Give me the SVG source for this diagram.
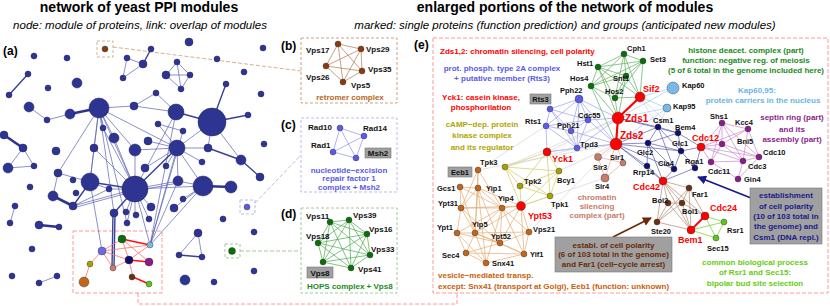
<svg xmlns="http://www.w3.org/2000/svg" width="830" height="306" viewBox="0 0 830 306">
<defs>
<style>
text{font-family:"Liberation Sans",Arial,Helvetica,sans-serif}
.title{font-size:14px;font-weight:bold;text-anchor:middle;fill:#000}
.sub{font-size:11.5px;font-style:italic;text-anchor:middle;fill:#000}
.pl{font-size:12px;font-weight:bold;fill:#000}
.lb{font-size:8px;font-weight:bold;fill:#111}
.le{font-size:7.5px;font-weight:bold;fill:#111}
.lr{font-size:9px;font-weight:bold;fill:#ff0000}
.lz{font-size:10px;font-weight:bold;fill:#ff0000}
.d{font-size:8px;font-weight:bold}
.c{text-anchor:middle}
.na{fill:#2e3590;stroke:#1c2068;stroke-width:.5}
.ea{stroke:#5a60b4;stroke-width:.7;fill:none}
.em{stroke:#3a4099;stroke-width:1.4;fill:none}
.et{stroke:#2e3590;stroke-width:2.6;fill:none}
.gbox{fill:#a0a0a0;stroke:#777;stroke-width:.6}
.n{stroke:#333;stroke-width:.4}
</style>
<marker id="arN" viewBox="0 0 10 10" refX="9" refY="5" markerWidth="5" markerHeight="5" orient="auto"><path d="M0,0L10,5L0,10z" fill="#1a1a8c"/></marker>
<marker id="arB" viewBox="0 0 10 10" refX="9" refY="5" markerWidth="5" markerHeight="5" orient="auto"><path d="M0,0L10,5L0,10z" fill="#6b2a0a"/></marker>
</defs>
<rect width="830" height="306" fill="#fff"/>

<text class="title" x="139" y="12">network of yeast PPI modules</text>
<text class="sub" x="140" y="29">node: module of proteins, link: overlap of modules</text>
<text class="title" x="565" y="12">enlarged portions of the network of modules</text>
<text class="sub" x="565" y="29">marked: single proteins (function prediction) and groups (anticipated new modules)</text>

<!-- connectors -->
<g id="connectors" fill="none" stroke-dasharray="4,2">
<path d="M113,47L301,71" stroke="#d09a70" stroke-width=".8"/>
<path d="M255,203L301,155" stroke="#aaaaee" stroke-width=".8"/>
<path d="M240,251L301,251" stroke="#88bb88" stroke-width=".8"/>
<path d="M138,293L138,304L457,304L457,293" stroke="#ff8080" stroke-width=".8"/>
</g>

<!-- panel a -->
<g id="panel-a">
<text class="pl" x="3" y="55">(a)</text>
<rect x="97" y="41" width="16" height="16" fill="none" stroke="#d09a70" stroke-width=".8" stroke-dasharray="3,2"/>
<rect x="240" y="200" width="15" height="14" fill="none" stroke="#aaaaee" stroke-width=".8" stroke-dasharray="3,2"/>
<rect x="225" y="244" width="15" height="14" fill="none" stroke="#88bb88" stroke-width=".8" stroke-dasharray="3,2"/>
<rect x="73" y="231" width="89" height="62" fill="none" stroke="#ff8080" stroke-width=".8" stroke-dasharray="4,2"/>
<path class="ea" d="M29,107L47,120L70,114M99,108L134,106M99,108L103,128M99,108L114,138M99,108L135,150M99,108L94,148M99,108L90,182M99,108L135,189M99,108L177,148M99,108L58,173M99,108L114,213M99,108L127,223M23,148L8,168M23,148L34,166M8,168L34,166M127,58L143,64M123,78L143,64M127,58L123,78M177,62L166,75M177,62L190,75M166,75L190,75M166,75L181,89M190,75L181,89M177,62L181,89M134,106L156,93M156,93L176,112M134,106L176,112M212,122L208,148M212,122L241,160M158,124L183,131M158,124L177,148M148,141L177,148M135,150L177,148M177,148L208,148M177,148L202,162M177,148L145,168M177,148L166,166M177,148L178,181M177,148L203,186M177,148L150,245M176,112L150,245M183,131L150,245M58,173L90,182M58,173L53,196M73,206L109,189M73,206L135,189M73,208L135,191M90,182L109,189M109,189L135,189M102,251L90,182M135,189L126,212M135,189L135,215M135,189L127,223M135,189L178,181M135,191L178,183M135,189L203,186M178,181L203,186M203,186L183,199M203,186L174,208M135,189L151,207M135,189L149,219M203,186L150,245M135,189L150,245M178,181L150,245M15,206L10,223M39,283L57,276M198,233L179,255M198,233L202,257M114,138L135,189M94,148L90,182M103,128L135,189M176,112L135,189M212,122L177,148M135,150L135,189M94,148L135,189"/>
<path class="em" d="M28,74L9,95M151,49L143,64M212,122L226,84M212,122L248,115M208,148L241,160M241,160L260,177M135,189L177,148M73,206L90,182M90,182L135,189M135,189L114,213M113,213L112,268M115,213L114,268M179,255L202,257M176,112L212,122"/>
<path class="et" d="M70,114L99,108M4,135L23,148M53,196L73,206M39,225L59,227M203,186L231,187"/>
<g class="na">
<circle cx="34" cy="56" r="3"/><circle cx="67" cy="58" r="3"/><circle cx="28" cy="74" r="3"/><circle cx="9" cy="95" r="3"/>
<circle cx="48" cy="88" r="3"/><circle cx="77" cy="83" r="5"/><circle cx="29" cy="107" r="5"/><circle cx="47" cy="120" r="3"/>
<circle cx="70" cy="114" r="5"/><circle cx="99" cy="108" r="10"/><circle cx="134" cy="106" r="4"/><circle cx="103" cy="128" r="3"/>
<circle cx="114" cy="138" r="5"/><circle cx="135" cy="150" r="6"/><circle cx="94" cy="148" r="4"/><circle cx="56" cy="151" r="4"/>
<circle cx="4" cy="135" r="4"/><circle cx="23" cy="148" r="4"/><circle cx="8" cy="168" r="5"/><circle cx="34" cy="166" r="3"/>
<circle cx="127" cy="58" r="3"/><circle cx="123" cy="78" r="3"/><circle cx="151" cy="49" r="3"/><circle cx="143" cy="64" r="4"/>
<circle cx="189" cy="42" r="4"/><circle cx="263" cy="48" r="3"/><circle cx="217" cy="59" r="3"/>
<circle cx="177" cy="62" r="3"/><circle cx="166" cy="75" r="4"/><circle cx="190" cy="75" r="3"/><circle cx="181" cy="89" r="3"/>
<circle cx="244" cy="72" r="3"/><circle cx="261" cy="94" r="3"/><circle cx="226" cy="84" r="3"/><circle cx="156" cy="93" r="3"/>
<circle cx="176" cy="112" r="8"/><circle cx="212" cy="122" r="14"/><circle cx="248" cy="115" r="3"/><circle cx="158" cy="124" r="3"/>
<circle cx="183" cy="131" r="3"/><circle cx="264" cy="144" r="3"/><circle cx="148" cy="141" r="4"/><circle cx="177" cy="148" r="8"/>
<circle cx="208" cy="148" r="4"/><circle cx="241" cy="160" r="5"/><circle cx="202" cy="162" r="3"/><circle cx="145" cy="168" r="4"/>
<circle cx="166" cy="166" r="3"/><circle cx="58" cy="173" r="4"/><circle cx="90" cy="182" r="9"/><circle cx="73" cy="180" r="3"/>
<circle cx="30" cy="187" r="3"/><circle cx="53" cy="196" r="5"/><circle cx="76" cy="193" r="3"/><circle cx="73" cy="206" r="4"/>
<circle cx="109" cy="189" r="3"/><circle cx="135" cy="189" r="13"/><circle cx="114" cy="213" r="4"/><circle cx="15" cy="206" r="3"/>
<circle cx="10" cy="223" r="3"/><circle cx="39" cy="225" r="4"/><circle cx="59" cy="227" r="3"/><circle cx="126" cy="212" r="3"/>
<circle cx="136" cy="215" r="3"/><circle cx="127" cy="223" r="3"/><circle cx="32" cy="249" r="3"/><circle cx="12" cy="276" r="3"/>
<circle cx="39" cy="283" r="3"/><circle cx="57" cy="276" r="3"/><circle cx="178" cy="181" r="5"/><circle cx="203" cy="186" r="10"/>
<circle cx="231" cy="187" r="6"/><circle cx="260" cy="177" r="4"/><circle cx="183" cy="199" r="3"/><circle cx="174" cy="208" r="4"/>
<circle cx="151" cy="207" r="4"/><circle cx="149" cy="219" r="3"/><circle cx="223" cy="219" r="3"/><circle cx="254" cy="232" r="3"/>
<circle cx="198" cy="233" r="4"/><circle cx="179" cy="255" r="3"/><circle cx="202" cy="257" r="3"/><circle cx="254" cy="271" r="3"/>
<circle cx="185" cy="280" r="5"/><circle cx="214" cy="282" r="3"/>
</g>
<path d="M102,251L122,239M102,251L129,260M102,251L113,268M102,251L90,264M90,264L84,282M122,239L129,260M129,260L113,268M129,260L150,245M129,260L133,277M122,239L149,262M102,251L150,245" stroke="#ff7070" stroke-width=".8" fill="none"/>
<path d="M122,239L150,245M129,260L149,262M133,277L149,284" stroke="#ff1010" stroke-width="1.6" fill="none"/>
<g class="n">
<circle cx="105" cy="49" r="3" fill="#8b3a0f"/>
<circle cx="247" cy="207" r="3" fill="#5a5ae6"/>
<circle cx="232" cy="251" r="3.5" fill="#0a6e0a"/>
<circle cx="102" cy="251" r="4" fill="#6a6ae6"/>
<circle cx="122" cy="239" r="4" fill="#0a6e0a"/>
<circle cx="90" cy="264" r="3" fill="#a8a000"/>
<circle cx="84" cy="282" r="5" fill="#c0651a"/>
<circle cx="113" cy="268" r="3" fill="#c87b6b"/>
<circle cx="129" cy="260" r="4" fill="#101070"/>
<circle cx="132" cy="277" r="3" fill="#6b2e10"/>
<circle cx="150" cy="245" r="3" fill="#7ab8e8"/>
<circle cx="149" cy="262" r="4" fill="#8b1a8b"/>
<circle cx="149" cy="284" r="3" fill="#5ec41a"/>
</g>
</g>

<!-- panel b -->
<g id="panel-b">
<text class="pl" x="281" y="50">(b)</text>
<rect x="301" y="38" width="96" height="65" fill="none" stroke="#c08a60" stroke-width=".8" stroke-dasharray="3,2"/>
<path d="M338,44L361,49M338,44L326,66M338,44L362,71M338,44L343,82M361,49L326,66M361,49L362,71M361,49L343,82M326,66L362,71M326,66L343,82M362,71L343,82" stroke="#b07850" stroke-width=".7" fill="none"/>
<g id="b-Vps17"><circle class="n" cx="338" cy="44" r="3" fill="#8b3a0f"/><text class="lb" x="306" y="53">Vps17</text></g>
<g id="b-Vps29"><circle class="n" cx="361" cy="49" r="3" fill="#8b3a0f"/><text class="lb" x="366" y="52">Vps29</text></g>
<g id="b-Vps26"><circle class="n" cx="326" cy="66" r="3" fill="#8b3a0f"/><text class="lb" x="306" y="80">Vps26</text></g>
<g id="b-Vps35"><circle class="n" cx="362" cy="71" r="3" fill="#8b3a0f"/><text class="lb" x="368" y="72">Vps35</text></g>
<g id="b-Vps5"><circle class="n" cx="343" cy="82" r="3" fill="#8b3a0f"/><text class="lb" x="351" y="88">Vps5</text></g>
<text class="d c" x="350" y="100" fill="#b5651d">retromer complex</text>
</g>

<!-- panel c -->
<g id="panel-c">
<text class="pl" x="281" y="129">(c)</text>
<rect x="301" y="118" width="96" height="74" fill="none" stroke="#aaaaee" stroke-width=".8" stroke-dasharray="3,2"/>
<path d="M340,128L364,136M340,128L333,152M340,128L356,158M364,136L333,152M364,136L356,158M333,152L356,158" stroke="#8f8fee" stroke-width=".7" fill="none"/>
<g id="c-Rad10"><circle class="n" cx="340" cy="128" r="3" fill="#5a5ae6"/><text class="lb" x="308" y="130">Rad10</text></g>
<g id="c-Rad14"><circle class="n" cx="364" cy="136" r="3" fill="#5a5ae6"/><text class="lb" x="363" y="131">Rad14</text></g>
<g id="c-Rad1"><circle class="n" cx="333" cy="152" r="3" fill="#5a5ae6"/><text class="lb" x="311" y="148">Rad1</text></g>
<g id="c-Msh2"><circle class="n" cx="356" cy="158" r="3" fill="#5a5ae6"/><rect class="gbox" x="365" y="148" width="26" height="10"/><text class="lb c" x="378" y="156">Msh2</text></g>
<text class="d c" x="349" y="173" fill="#5a5ae6">nucleotide−excision</text>
<text class="d c" x="349" y="181" fill="#5a5ae6">repair factor 1</text>
<text class="d c" x="349" y="190" fill="#5a5ae6">complex + Msh2</text>
</g>

<!-- panel d -->
<g id="panel-d">
<text class="pl" x="281" y="218">(d)</text>
<rect x="301" y="208" width="96" height="85" fill="none" stroke="#88bb88" stroke-width=".8" stroke-dasharray="3,2"/>
<path d="M330,222L349,220M330,222L367,234M330,222L318,243M330,222L370,255M330,222L323,262M330,222L351,268M349,220L367,234M349,220L318,243M349,220L370,255M349,220L323,262M349,220L351,268M367,234L318,243M367,234L370,255M367,234L323,262M367,234L351,268M318,243L370,255M318,243L323,262M318,243L351,268M370,255L323,262M370,255L351,268M323,262L351,268" stroke="#4caa4c" stroke-width=".7" fill="none"/>
<g id="d-Vps11"><circle class="n" cx="330" cy="222" r="3" fill="#0a6e0a"/><text class="lb" x="306" y="219">Vps11</text></g>
<g id="d-Vps39"><circle class="n" cx="349" cy="220" r="3" fill="#0a6e0a"/><text class="lb" x="353" y="218">Vps39</text></g>
<g id="d-Vps16"><circle class="n" cx="367" cy="234" r="3" fill="#0a6e0a"/><text class="lb" x="369" y="232">Vps16</text></g>
<g id="d-Vps18"><circle class="n" cx="318" cy="243" r="3" fill="#0a6e0a"/><text class="lb" x="306" y="239">Vps18</text></g>
<g id="d-Vps33"><circle class="n" cx="370" cy="255" r="3" fill="#0a6e0a"/><text class="lb" x="371" y="252">Vps33</text></g>
<g id="d-Vps8"><circle class="n" cx="323" cy="262" r="3" fill="#0a6e0a"/><rect class="gbox" x="307" y="267" width="26" height="11"/><text class="lb c" x="320" y="276">Vps8</text></g>
<g id="d-Vps41"><circle class="n" cx="351" cy="268" r="3" fill="#0a6e0a"/><text class="lb" x="358" y="272">Vps41</text></g>
<text class="d" x="307" y="289" fill="#1a8a1a">HOPS complex + Vps8</text>
</g>

<!-- panel e -->
<g id="panel-e">
<text class="pl" x="414" y="49">(e)</text>
<rect x="433" y="38" width="395" height="255" fill="none" stroke="#ff8080" stroke-width=".8" stroke-dasharray="4,2"/>

<g id="e-edges" fill="none">
<path stroke="#cfcfcf" stroke-width=".6" d="M547,152L618,118M547,152L616,144M529,232L616,144M478,170L616,144M505,167L618,118M640,97L658,127M667,108L658,127M640,97L678,133M559,171L616,144M521,206L605,178M546,126L478,170M577,148L505,167"/>
<path stroke="#9d9df2" stroke-width=".7" d="M579,99L550,109M579,99L546,126M579,99L571,131M579,99L588,120M579,99L577,148M550,109L546,126M550,109L571,131M550,109L588,120M550,109L577,148M546,126L571,131M546,126L588,120M546,126L577,148M571,131L588,120M571,131L577,148M588,120L577,148M579,99L618,118M588,120L618,118M588,120L616,144M577,148L616,144M571,131L616,144M577,148L618,118M579,99L616,144M546,126L547,152M577,148L547,152"/>
<path stroke="#5fae5f" stroke-width=".7" d="M598,67L591,86M598,67L626,76M598,67L615,98M598,67L624,54M598,67L643,61M591,86L626,76M591,86L615,98M591,86L624,54M591,86L643,61M626,76L615,98M626,76L624,54M626,76L643,61M615,98L624,54M615,98L643,61M624,54L643,61M598,67L618,118M591,86L618,118M626,76L618,118M615,98L618,118M643,61L640,97M626,76L640,97M615,98L640,97M598,67L640,97M624,54L640,97M591,86L616,144"/>
<path stroke="#a8d4f0" stroke-width=".8" d="M673,88L640,97M667,108L640,97M673,88L618,118M667,108L618,118M667,108L616,144"/>
<path stroke="#ff0000" stroke-width="2.2" d="M618,118L640,97M618,118L616,144"/>
<path stroke="#5a5ab0" stroke-width=".7" d="M658,127L678,133M658,127L648,143M658,127L681,151M678,133L681,151M678,133L648,143M681,151L648,143M648,143L647,166M648,143L674,169M681,151L674,169M681,151L695,168M678,133L701,147M681,151L701,147M674,169L663,181M647,166L663,181M695,168L663,181M616,144L648,143M616,144L658,127M618,118L658,127M616,144L647,166M616,144L674,169M618,118L678,133M616,144L681,151M695,168L701,147M658,127L674,169M616,144L663,181M648,143L663,181"/>
<path stroke="#c888c8" stroke-width=".7" d="M701,147L722,123M701,147L722,144M701,147L748,129M701,147L711,162M701,147L743,161M701,147L759,157M722,123L748,129M722,123L722,144M722,123L759,157M722,123L743,161M748,129L759,157M748,129L722,144M748,129L743,161M722,144L743,161M722,144L759,157M722,144L711,162M743,161L759,157M743,161L738,179M711,162L738,179M711,162L743,161M759,157L738,179M722,123L711,162"/>
<path stroke="#e8a898" stroke-width=".7" d="M598,157L623,163M598,157L605,178M623,163L605,178M616,144L598,157M616,144L623,163M616,144L605,178"/>
<path stroke="#d8d070" stroke-width=".8" d="M505,167L520,186M505,167L559,171M505,167L550,196M505,167L521,206M520,186L559,171M520,186L550,196M520,186L521,206M559,171L550,196M559,171L521,206M550,196L521,206M547,152L505,167M547,152L520,186M547,152L559,171M547,152L550,196"/>
<path stroke="#e4aa70" stroke-width=".7" d="M460,187L478,188M460,187L461,208M460,187L502,208M460,187L475,233M478,188L461,208M478,188L502,208M478,188L475,233M478,188L500,243M478,188L486,263M478,170L478,188M478,170L461,208M478,170L475,233M478,170L502,208M461,208L502,208M461,208L457,233M461,208L475,233M461,208L500,243M502,208L521,206M502,208L475,233M502,208L500,243M502,208L486,263M502,208L524,254M502,208L457,233M502,208L529,232M457,233L475,233M457,233L466,253M457,233L486,263M457,233L500,243M475,233L500,243M475,233L466,253M475,233L486,263M475,233L524,254M475,233L529,232M500,243L524,254M500,243L529,232M500,243L466,253M500,243L521,206M466,253L524,254M466,253L486,263M486,263L524,254M524,254L529,232M521,206L529,232M521,206L524,254M521,206L475,233M521,206L461,208M521,206L478,188"/>
<path stroke="#b08870" stroke-width=".7" d="M663,181L689,188M663,181L668,203M663,181L682,203M663,181L657,222M663,181L691,230M663,181L705,216M689,188L682,203M689,188L705,216M689,188L691,230M668,203L682,203M668,203L657,222M668,203L691,230M682,203L691,230M682,203L657,222M682,203L705,216M657,222L691,230M689,188L657,222"/>
<path stroke="#80d040" stroke-width=".8" d="M705,216L724,222M705,216L716,238M691,230L724,222M691,230L716,238M724,222L716,238"/>
<path stroke="#ff0000" stroke-width="1.8" d="M705,216L691,230"/>
</g>
<path d="M751,198L698,177" stroke="#1a1a8c" stroke-width="1.8" fill="none" marker-end="url(#arN)"/>
<path d="M613,237L651,218" stroke="#6b2a0a" stroke-width="1.8" fill="none" marker-end="url(#arB)"/>

<g id="e-nodes">
<g id="e-Pph22"><circle class="n" cx="579" cy="99" r="4" fill="#5a5ae6"/><text class="le" x="560" y="93">Pph22</text></g>
<g id="e-Rts3"><circle class="n" cx="550" cy="109" r="3" fill="#5a5ae6"/><rect class="gbox" x="530" y="94" width="21" height="10"/><text class="le c" x="540.5" y="102">Rts3</text></g>
<g id="e-Rts1"><circle class="n" cx="546" cy="126" r="3" fill="#5a5ae6"/><text class="le" x="525" y="124">Rts1</text></g>
<g id="e-Pph21"><circle class="n" cx="571" cy="131" r="3" fill="#5a5ae6"/><text class="le" x="557" y="128">Pph21</text></g>
<g id="e-Cdc55"><circle class="n" cx="588" cy="120" r="3" fill="#5a5ae6"/><text class="le" x="578" y="118">Cdc55</text></g>
<g id="e-Tpd3"><circle class="n" cx="577" cy="148" r="3" fill="#5a5ae6"/><text class="le" x="580" y="147">Tpd3</text></g>
<g id="e-Hst1"><circle class="n" cx="598" cy="67" r="3" fill="#0a6e0a"/><text class="le" x="577" y="66">Hst1</text></g>
<g id="e-Hos4"><circle class="n" cx="591" cy="86" r="3" fill="#0a6e0a"/><text class="le" x="570" y="81">Hos4</text></g>
<g id="e-Snt1"><circle class="n" cx="626" cy="76" r="3" fill="#0a6e0a"/><text class="le" x="613" y="81">Snt1</text></g>
<g id="e-Hos2"><circle class="n" cx="615" cy="98" r="3" fill="#0a6e0a"/><text class="le" x="605" y="94">Hos2</text></g>
<g id="e-Cph1"><circle class="n" cx="624" cy="54" r="3" fill="#0a6e0a"/><text class="le" x="627" y="51">Cph1</text></g>
<g id="e-Set3"><circle class="n" cx="643" cy="61" r="3" fill="#0a6e0a"/><text class="le" x="650" y="62">Set3</text></g>
<g id="e-Kap60"><circle class="n" cx="673" cy="88" r="6" fill="#7ab8e8"/><text class="le" x="682" y="88">Kap60</text></g>
<g id="e-Kap95"><circle class="n" cx="667" cy="108" r="4" fill="#7ab8e8"/><text class="le" x="673" y="109">Kap95</text></g>
<g id="e-Sif2"><circle class="n" cx="640" cy="97" r="5" fill="#ff0000"/><text class="lr" x="643" y="92">Sif2</text></g>
<g id="e-Zds1"><circle class="n" cx="618" cy="118" r="6" fill="#ff0000"/><text class="lz" x="625" y="122">Zds1</text></g>
<g id="e-Zds2"><circle class="n" cx="616" cy="144" r="6" fill="#ff0000"/><text class="lz" x="620" y="139">Zds2</text></g>
<g id="e-Yck1"><circle class="n" cx="547" cy="152" r="4" fill="#ff0000"/><text class="lr" x="552" y="162">Yck1</text></g>
<g id="e-Csm1"><circle class="n" cx="658" cy="127" r="3" fill="#101070"/><text class="le" x="653" y="123">Csm1</text></g>
<g id="e-Bem4"><circle class="n" cx="678" cy="133" r="3" fill="#101070"/><text class="le" x="675" y="130">Bem4</text></g>
<g id="e-Glc1"><circle class="n" cx="681" cy="151" r="3" fill="#101070"/><text class="le" x="672" y="146">Glc1</text></g>
<g id="e-Glc2"><circle class="n" cx="648" cy="143" r="3" fill="#101070"/><text class="le" x="637" y="155">Glc2</text></g>
<g id="e-Rrp14"><circle class="n" cx="647" cy="166" r="3" fill="#101070"/><text class="le" x="633" y="175">Rrp14</text></g>
<g id="e-Cla4"><circle class="n" cx="674" cy="169" r="3" fill="#101070"/><text class="le" x="658" y="166">Cla4</text></g>
<g id="e-Rga1"><text class="le" x="685" y="164">Rga1</text></g>
<g id="e-Cdc11"><circle class="n" cx="695" cy="168" r="3" fill="#101070"/><text class="le" x="708" y="174">Cdc11</text></g>
<g id="e-Cdc12"><circle class="n" cx="701" cy="147" r="4" fill="#ff0000"/><text class="lr" x="692" y="141">Cdc12</text></g>
<g id="e-Shs1"><circle class="n" cx="722" cy="123" r="3" fill="#8b1a8b"/><text class="le" x="710" y="119">Shs1</text></g>
<g id="e-Kcc4"><circle class="n" cx="748" cy="129" r="3" fill="#8b1a8b"/><text class="le" x="735" y="125">Kcc4</text></g>
<g id="e-Bni5"><circle class="n" cx="722" cy="144" r="3" fill="#8b1a8b"/><text class="le" x="737" y="144">Bni5</text></g>
<g id="e-Cdc10"><circle class="n" cx="759" cy="157" r="3" fill="#8b1a8b"/><text class="le" x="763" y="155">Cdc10</text></g>
<g id="e-Cdc3"><circle class="n" cx="743" cy="161" r="3" fill="#8b1a8b"/><text class="le" x="748" y="169">Cdc3</text></g>
<g id="e-sept"><circle class="n" cx="711" cy="162" r="3" fill="#8b1a8b"/></g>
<g id="e-Gin4"><circle class="n" cx="738" cy="179" r="3" fill="#8b1a8b"/><text class="le" x="744" y="182">Gin4</text></g>
<g id="e-Cdc42"><circle class="n" cx="663" cy="181" r="4" fill="#ff0000"/><text class="lr" x="633" y="190">Cdc42</text></g>
<g id="e-Far1"><circle class="n" cx="689" cy="188" r="3" fill="#6b2e10"/><text class="le" x="692" y="197">Far1</text></g>
<g id="e-Boi2"><circle class="n" cx="668" cy="203" r="3" fill="#6b2e10"/><text class="le" x="652" y="203">Boi2</text></g>
<g id="e-Boi1"><circle class="n" cx="682" cy="203" r="3" fill="#6b2e10"/><text class="le" x="682" y="214">Boi1</text></g>
<g id="e-Ste20"><circle class="n" cx="657" cy="222" r="3" fill="#6b2e10"/><text class="le" x="651" y="234">Ste20</text></g>
<g id="e-Cdc24"><circle class="n" cx="705" cy="216" r="4" fill="#ff0000"/><text class="lr" x="710" y="211">Cdc24</text></g>
<g id="e-Bem1"><circle class="n" cx="691" cy="230" r="4" fill="#ff0000"/><text class="lr" x="678" y="243">Bem1</text></g>
<g id="e-Rsr1"><circle class="n" cx="724" cy="222" r="3" fill="#5ec41a"/><text class="le" x="727" y="233">Rsr1</text></g>
<g id="e-Sec15"><circle class="n" cx="716" cy="238" r="3" fill="#5ec41a"/><text class="le" x="707" y="251">Sec15</text></g>
<g id="e-Sir1"><circle class="n" cx="623" cy="163" r="3" fill="#c87b6b"/><text class="le" x="610" y="160">Sir1</text></g>
<g id="e-Sir3"><circle class="n" cx="598" cy="157" r="3.5" fill="#c87b6b"/><text class="le" x="593" y="170">Sir3</text></g>
<g id="e-Sir4"><circle class="n" cx="605" cy="178" r="4" fill="#c87b6b"/><text class="le" x="595" y="189">Sir4</text></g>
<g id="e-Tpk3"><circle class="n" cx="505" cy="167" r="3" fill="#a8a000"/><text class="le" x="480" y="165">Tpk3</text></g>
<g id="e-Tpk2"><circle class="n" cx="520" cy="186" r="3" fill="#a8a000"/><text class="le" x="524" y="184">Tpk2</text></g>
<g id="e-Bcy1"><circle class="n" cx="559" cy="171" r="3" fill="#a8a000"/><text class="le" x="557" y="183">Bcy1</text></g>
<g id="e-Tpk1"><circle class="n" cx="550" cy="196" r="3" fill="#a8a000"/><text class="le" x="551" y="207">Tpk1</text></g>
<g id="e-Ypt53"><circle class="n" cx="521" cy="206" r="4.5" fill="#ff0000"/><text class="lr" x="528" y="219">Ypt53</text></g>
<g id="e-Eeb1"><circle class="n" cx="478" cy="170" r="3" fill="#c0651a"/><rect class="gbox" x="448" y="167" width="24" height="10"/><text class="le c" x="460" y="175">Eeb1</text></g>
<g id="e-Gcs1"><circle class="n" cx="460" cy="187" r="3" fill="#c0651a"/><text class="le" x="437" y="191">Gcs1</text></g>
<g id="e-Yip1"><circle class="n" cx="478" cy="188" r="3" fill="#c0651a"/><text class="le" x="486" y="191">Yip1</text></g>
<g id="e-Ypt31"><circle class="n" cx="461" cy="208" r="3" fill="#c0651a"/><text class="le" x="438" y="206">Ypt31</text></g>
<g id="e-Yip4"><circle class="n" cx="502" cy="208" r="3" fill="#c0651a"/><text class="le" x="498" y="201">Yip4</text></g>
<g id="e-Ypt1"><circle class="n" cx="457" cy="233" r="3" fill="#c0651a"/><text class="le" x="437" y="230">Ypt1</text></g>
<g id="e-Yip5"><circle class="n" cx="475" cy="233" r="3" fill="#c0651a"/><text class="le" x="472" y="227">Yip5</text></g>
<g id="e-Ypt52"><circle class="n" cx="500" cy="243" r="3" fill="#c0651a"/><text class="le" x="491" y="239">Ypt52</text></g>
<g id="e-Vps21"><circle class="n" cx="529" cy="232" r="3" fill="#c0651a"/><text class="le" x="533" y="232">Vps21</text></g>
<g id="e-Sec4"><circle class="n" cx="466" cy="253" r="3" fill="#c0651a"/><text class="le" x="442" y="258">Sec4</text></g>
<g id="e-Yif1"><circle class="n" cx="524" cy="254" r="3" fill="#c0651a"/><text class="le" x="530" y="257">Yif1</text></g>
<g id="e-Snx41"><circle class="n" cx="486" cy="263" r="3" fill="#c0651a"/><text class="le" x="492" y="266">Snx41</text></g>
</g>

<g id="e-notes">
<text class="d" x="440" y="54" fill="#ff0000">Zds1,2: chromatin silencing, cell polarity</text>
<text class="d c" x="502" y="71" fill="#5a5ae6">prot. phosph. type 2A complex</text>
<text class="d c" x="502" y="81" fill="#5a5ae6">+ putative member (Rts3)</text>
<text class="d c" x="481" y="100" fill="#ff0000">Yck1: casein kinase,</text>
<text class="d c" x="481" y="110" fill="#ff0000">phosphorilation</text>
<text class="d c" x="482" y="127" fill="#b0a400">cAMP−dep. protein</text>
<text class="d c" x="482" y="138" fill="#b0a400">kinase complex</text>
<text class="d c" x="482" y="150" fill="#b0a400">and its regulator</text>
<text class="d c" x="746" y="53" fill="#1a8a1a">histone deacet. complex (part)</text>
<text class="d c" x="746" y="63" fill="#1a8a1a">function: negative reg. of meiosis</text>
<text class="d c" x="746" y="73" fill="#1a8a1a">(5 of 6 total in the genome included here)</text>
<text class="d c" x="757" y="93" fill="#6ab4e8">Kap60,95:</text>
<text class="d c" x="763" y="103" fill="#6ab4e8">protein carriers in the nucleus</text>
<text class="d c" x="792" y="120" fill="#8b1a8b">septin ring (part)</text>
<text class="d c" x="792" y="132" fill="#8b1a8b">and its</text>
<text class="d c" x="792" y="142" fill="#8b1a8b">assembly (part)</text>
<text class="d c" x="597" y="199.5" fill="#c87a6a">chromatin</text>
<text class="d c" x="597" y="209" fill="#c87a6a">silencing</text>
<text class="d c" x="597" y="218" fill="#c87a6a">complex (part)</text>
<text class="d" x="438" y="278" fill="#c8600a">vesicle−mediated transp.</text>
<text class="d" x="438" y="289" fill="#c8600a">except: Snx41 (transport at Golgi), Eeb1 (function: unknown)</text>
<text class="d c" x="755" y="265" fill="#66cc11">common biological process</text>
<text class="d c" x="755" y="275" fill="#66cc11">of Rsr1 and Sec15:</text>
<text class="d c" x="755" y="286" fill="#66cc11">bipolar bud site selection</text>
<rect class="gbox" x="555" y="237" width="117" height="35"/>
<text class="d c" x="613.5" y="247.5" fill="#6b2a0a">establ. of cell polarity</text>
<text class="d c" x="613.5" y="257" fill="#6b2a0a">(6 of 103 total in the genome)</text>
<text class="d c" x="613.5" y="267" fill="#6b2a0a">and Far1 (cell−cycle arrest)</text>
<rect class="gbox" x="750" y="188" width="72" height="56"/>
<text class="d c" x="786" y="198" fill="#1a1a8c">establishment</text>
<text class="d c" x="786" y="208.5" fill="#1a1a8c">of cell polarity</text>
<text class="d c" x="786" y="219" fill="#1a1a8c">(10 of 103 total in</text>
<text class="d c" x="786" y="229" fill="#1a1a8c">the genome) and</text>
<text class="d c" x="786" y="239.5" fill="#1a1a8c">Csm1 (DNA repl.)</text>
</g>
</g>
</svg>
